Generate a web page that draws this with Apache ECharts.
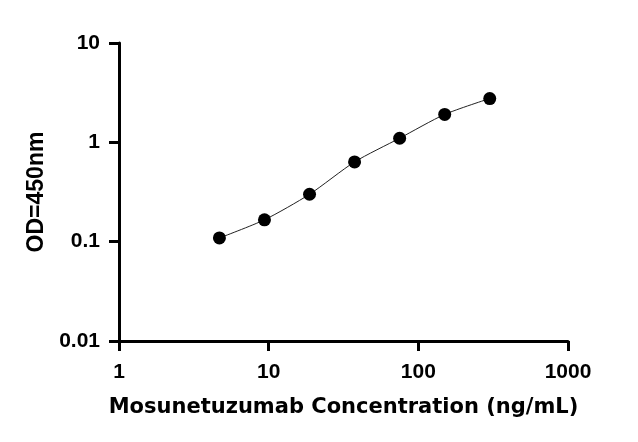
<!DOCTYPE html>
<html>
<head>
<meta charset="utf-8">
<script src="https://cdn.jsdelivr.net/npm/echarts@6/dist/echarts.min.js"></script>
<style>
html,body{margin:0;padding:0;background:#fff;}
#c{width:638px;height:442px;}
</style>
</head>
<body>
<div id="c"></div>
<script>
const concentrations = [4.6875, 9.375, 18.75, 37.5, 75, 150, 300];
const odValues = [0.109, 0.166, 0.30, 0.635, 1.10, 1.91, 2.76];
const xTickLabels = ['1', '10', '100', '1000'];
const yTickLabels = ['0.01', '0.1', '1', '10'];
const xTitle = 'Mosunetuzumab Concentration (ng/mL)';
const yTitle = 'OD=450nm';

const chart = echarts.init(document.getElementById('c'), null, {renderer: 'canvas'});
const pts = concentrations.map((x, i) => [x, odValues[i]]);
const axisCommon = {
  axisLine: {show: true, lineStyle: {color: '#000', width: 3}},
  axisTick: {show: true, length: 10, lineStyle: {color: '#000', width: 3}},
  splitLine: {show: false},
  minorTick: {show: false}
};
chart.setOption({
  animation: false,
  backgroundColor: '#fff',
  grid: {left: 119, right: 70, top: 43, bottom: 101, containLabel: false},
  xAxis: Object.assign({
    type: 'log', logBase: 10, min: 1, max: 1000,
    name: xTitle, nameLocation: 'middle', nameGap: 56,
    nameTextStyle: {fontFamily: 'DejaVu Sans', fontWeight: 'bold', fontSize: 21, color: '#000'},
    axisLabel: {
      margin: 21, color: '#000', fontFamily: 'Liberation Sans', fontWeight: 'bold', fontSize: 21,
      formatter: v => xTickLabels[Math.round(Math.log10(v))]
    }
  }, axisCommon),
  yAxis: Object.assign({
    type: 'log', logBase: 10, min: 0.01, max: 10,
    name: yTitle, nameLocation: 'middle', nameGap: 71,
    nameTextStyle: {fontFamily: 'Liberation Sans', fontWeight: 'bold', fontSize: 23, color: '#000'},
    axisLabel: {
      margin: 19, color: '#000', fontFamily: 'Liberation Sans', fontWeight: 'bold', fontSize: 21,
      formatter: v => yTickLabels[Math.round(Math.log10(v)) + 2]
    }
  }, axisCommon),
  series: [{
    type: 'line',
    data: pts,
    smooth: 0.25,
    symbol: 'circle',
    symbolSize: 13,
    showAllSymbol: true,
    lineStyle: {color: '#222', width: 1},
    itemStyle: {color: '#000'}
  }]
});
</script>
</body>
</html>
